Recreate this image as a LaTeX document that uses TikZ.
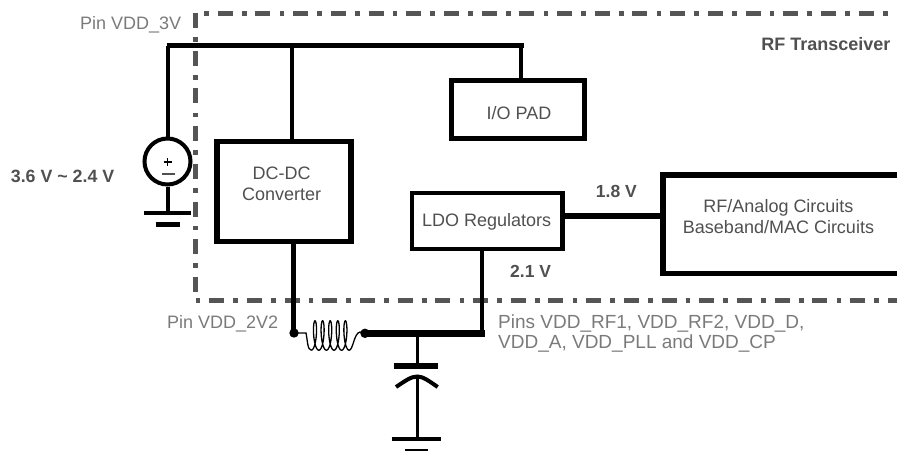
\documentclass[tikz,border=0pt]{standalone}
\usepackage{fontspec}
\setmainfont{Liberation Sans}
\definecolor{lbl}{HTML}{505050}
\definecolor{pin}{HTML}{7A7A7A}
\definecolor{dd}{HTML}{555555}
\tikzset{
  x=1pt,y=-1pt,
  blk/.style={draw=black,line width=#1,fill=white,inner sep=0pt},
  boxtext/.style={text=lbl,align=center,inner sep=0pt,font=\fontsize{18}{21}\selectfont},
  wire/.style={draw=black,line width=#1},
  pinlabel/.style={text=pin,font=\fontsize{18}{20}\selectfont,inner sep=0pt},
  volt/.style={text=lbl,font=\bfseries\fontsize{#1}{20}\selectfont,inner sep=0pt},
  dots/.style={draw=dd,line width=4.7pt,dash pattern=on 15pt off 9.2pt on 4.7pt off 8.8pt},
}
\begin{document}
\begin{tikzpicture}
\useasboundingbox (0,0) rectangle (897,450);
% boundary
\coordinate (bTL) at (195.7,13);
\coordinate (bBL) at (195.7,300.7);
\coordinate (bTR) at (888,13.5);
\coordinate (bBR) at (897,300.7);
\draw[dots] (bTL) -- (bBL);
\draw[dots,dash phase=15.7pt] (bTL |- bTR) -- (bTR);
\draw[dots,dash phase=24.3pt] (bBL) -- (bBR);
% pin coordinates
\coordinate (railL) at (166.7,45.5);
\coordinate (railV) at (168,45.5);
\coordinate (railD) at (292,45.5);
\coordinate (railP) at (521,45.5);
\coordinate (railR) at (523.5,45.5);
\coordinate (dcOut) at (293.7,333);
\coordinate (pinB) at (294,333);
\coordinate (pinC) at (365,333.3);
\coordinate (junc) at (417.3,333.3);
\coordinate (ldoJ) at (482,333.3);
\coordinate (thickEnd) at (485,333.3);
\coordinate (lrY) at (600,216);
% blocks
\node[blk=5.5pt,minimum width=132.7pt,minimum height=58pt] (pad) at (518,109.5) {};
\node[blk=5.7pt,minimum width=133.6pt,minimum height=100pt] (dc) at (284,191.5) {};
\node[blk=4.5pt,minimum width=150.7pt,minimum height=56pt] (ldo) at (487.3,221) {};
\node[blk=5.5pt,minimum width=247pt,minimum height=98.5pt] (rf) at (786.5,224) {};
\node[boxtext] (padt) at (519,113.3) {I/O PAD};
\node[boxtext] (dct) at (281.7,184) {DC-DC\\Converter};
\node[boxtext] (ldot) at (486.7,222.3) {LDO Regulators};
\node[boxtext] (rft) at (778.5,217) {RF/Analog Circuits\\Baseband/MAC Circuits};
% source
\node[circle,draw=black,line width=4pt,minimum size=46pt,inner sep=0pt,fill=white] (src) at (167.5,161.5) {};
\coordinate (plusL) at (163.5,162);
\coordinate (plusR) at (171.5,162);
\coordinate (plusT) at (167.5,158);
\coordinate (plusB) at (167.5,166);
\draw[wire=1.7pt] (plusL) -- (plusR);
\draw[wire=1.7pt] (plusT) -- (plusB);
\coordinate (minusL) at (161.5,174);
\coordinate (minusR) at (174.5,174);
\draw[draw=lbl,line width=1.5pt] (minusL) -- (minusR);
\coordinate (g1) at (167.8,213);
\coordinate (g1a) at (144,213);
\coordinate (g1b) at (191,213);
\coordinate (g2a) at (155.5,224.5);
\coordinate (g2b) at (179.5,224.5);
% wiring
\draw[wire=5pt] (railL) -- (railR);
\draw[wire=3.4pt] (railV) -- (railV |- src.north);
\draw[wire=4.5pt] (railD) -- (railD |- dc.north);
\draw[wire=4pt] (railP) -- (railP |- pad.north);
\draw[wire=3.4pt] (g1 |- src.south) -- (g1);
\draw[wire=3.3pt] (g1a) -- (g1b);
\draw[wire=4.5pt] (g2a) -- (g2b);
\draw[wire=4.5pt] (dcOut |- dc.south) -- (dcOut);
\draw[wire=4pt] (ldoJ |- ldo.south) -- (ldoJ);
\draw[wire=5.5pt] (ldo.east |- lrY) -- (rf.west |- lrY);
\draw[wire=7pt] (pinC) -- (thickEnd);
\fill (pinB) circle (4.7pt);
\fill (pinC) circle (4.7pt);
% inductor
\coordinate (indA) at (306,333);
\coordinate (indB) at (311.2,350.2);
\coordinate (indC) at (349.2,350.2);
\coordinate (indD) at (360,332);
\draw[line width=1.3pt] (pinB) -- (indA) .. controls (307.5,340) and (307.5,350.2) .. (indB)
  plot[domain=0:1800,samples=240] ({311.2+7.6*\x/360+3.2*sin(\x)},{335.5+14.7*cos(\x)})
  .. controls (353,350.2) and (354,333) .. (indD) -- (pinC);
% capacitor
\coordinate (c1) at (417.3,366);
\coordinate (c1a) at (394.3,366);
\coordinate (c1b) at (437.7,366);
\coordinate (c2) at (417.3,376.5);
\coordinate (c2a) at (396,387);
\coordinate (c2b) at (437.7,387);
\coordinate (g3) at (417.3,439);
\coordinate (g3a) at (391.7,439);
\coordinate (g3b) at (440.7,439);
\coordinate (g4a) at (405,451);
\coordinate (g4b) at (428,451);
\draw[wire=3pt] (junc) -- (c1);
\draw[wire=6pt] (c1a) -- (c1b);
\draw[wire=4pt] (c2a) .. controls (405,381) and (411,376.5) .. (c2) .. controls (423,376.5) and (429,381) .. (c2b);
\draw[wire=3pt] (c2) -- (g3);
\draw[wire=4.5pt] (g3a) -- (g3b);
\draw[wire=5pt] (g4a) -- (g4b);
% labels
\node[pinlabel,anchor=west] (l1) at (80,25) {Pin VDD\_3V};
\node[pinlabel,anchor=west] (l2) at (167,324) {Pin VDD\_2V2};
\node[pinlabel,anchor=west,align=left,font=\fontsize{19}{20}\selectfont] (l3) at (498,333.5) {Pins VDD\_RF1, VDD\_RF2, VDD\_D,\\VDD\_A, VDD\_PLL and VDD\_CP};
\node[volt=18,anchor=east] (v1) at (890.7,44) {RF Transceiver};
\node[volt=17.8,anchor=west] (v2) at (10.7,176.7) {3.6 V \textasciitilde\ 2.4 V};
\node[volt=17.5,anchor=west] (v3) at (595.7,191.7) {1.8 V};
\node[volt=17.5,anchor=west] (v4) at (510,271) {2.1 V};
\end{tikzpicture}
\end{document}
